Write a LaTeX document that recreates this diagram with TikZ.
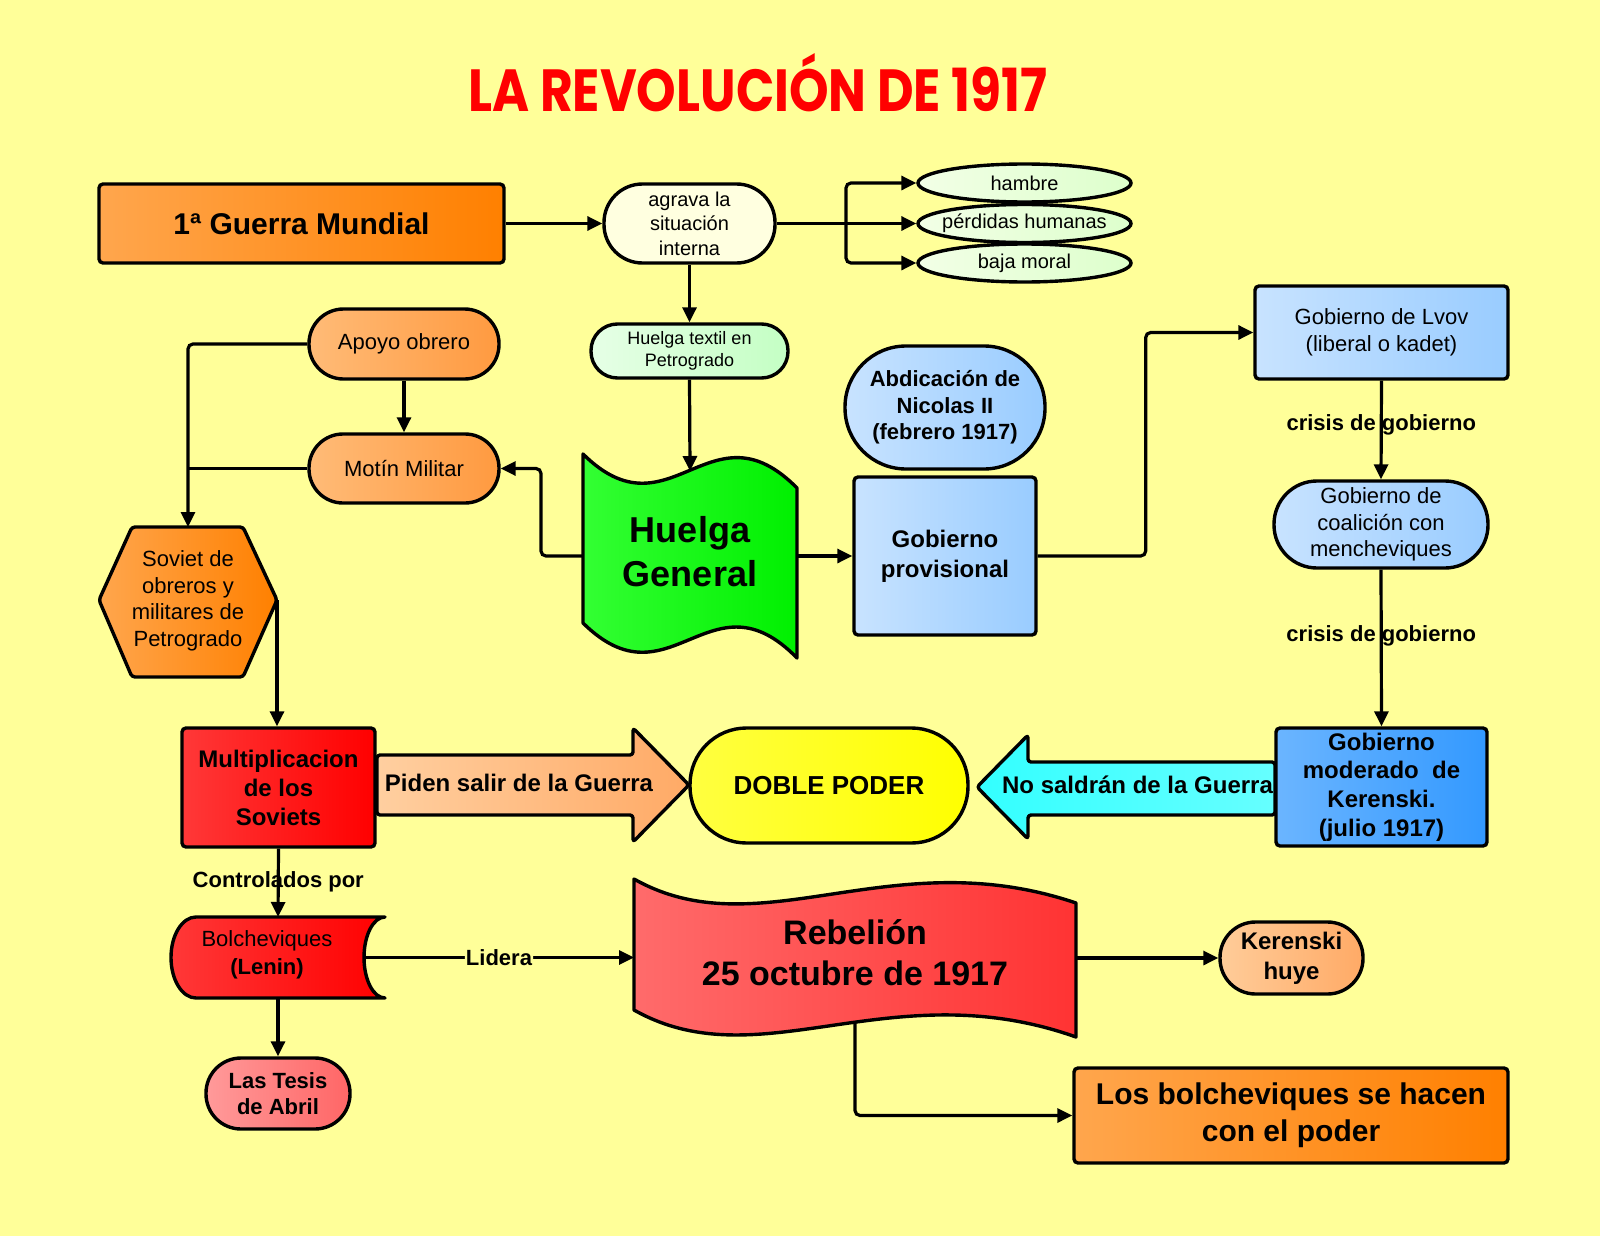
\documentclass[tikz,border=0pt]{standalone}
\usepackage{fontspec}
\setmainfont{Liberation Sans}
\newfontfamily\titlefont{Poppins}
\usepackage{graphicx}
\usetikzlibrary{shapes.misc,shapes.geometric,arrows.meta,calc}
\newcommand\fsz[2]{\fontsize{#1}{#2}\selectfont}
\definecolor{bg}{HTML}{FFFF99}
\definecolor{orA}{HTML}{FFA64D}\definecolor{orB}{HTML}{FF8000}
\definecolor{apA}{HTML}{FFBB77}\definecolor{apB}{HTML}{FF9A40}
\definecolor{cream}{HTML}{FFFFE0}
\definecolor{elA}{HTML}{F2FFE6}\definecolor{elB}{HTML}{DDFFCC}
\definecolor{txA}{HTML}{E6FFE6}\definecolor{txB}{HTML}{C4FFC4}
\definecolor{hgA}{HTML}{33FF33}\definecolor{hgB}{HTML}{00F000}
\definecolor{lbA}{HTML}{C8E3FF}\definecolor{lbB}{HTML}{99CCFF}
\definecolor{kbA}{HTML}{6BB5FF}\definecolor{kbB}{HTML}{3399FF}
\definecolor{muA}{HTML}{FF3838}\definecolor{muB}{HTML}{FF0000}
\definecolor{pdA}{HTML}{FFCFA0}\definecolor{pdB}{HTML}{FFAA66}
\definecolor{dpA}{HTML}{FFFF40}\definecolor{dpB}{HTML}{FFFF00}
\definecolor{cyA}{HTML}{33FFFF}\definecolor{cyB}{HTML}{66FFFF}
\definecolor{teA}{HTML}{FF9A9A}\definecolor{teB}{HTML}{FF6666}
\definecolor{rbA}{HTML}{FF6B6B}\definecolor{rbB}{HTML}{FF3333}
\definecolor{khA}{HTML}{FFCC99}\definecolor{khB}{HTML}{FFAA66}
\begin{document}
\begin{tikzpicture}[x=1pt,y=-1pt,
  bx/.style={draw=black,line width=3.4pt,rounded corners=4pt,align=center,inner sep=0pt},
  stad/.style={draw=black,line width=3.4pt,rounded corners=#1,align=center,inner sep=0pt},
  conn/.style={line width=3.2pt,-{Triangle[length=15pt,width=14pt]},rounded corners=5pt},
  link/.style={line width=3.2pt,rounded corners=5pt},
  shp/.style={draw=black,line width=3.4pt,line join=round},
  lbl/.style={font=\fsz{22}{26}\bfseries,inner sep=1pt}]
\fill[bg] (0,0) rectangle (1600,1236);
\useasboundingbox (0,0) rectangle (1600,1236);

% title
\node[inner sep=0pt,text=red] (title) at (758,83) {\resizebox{579pt}{58pt}{\titlefont\bfseries LA REVOLUCIÓN DE 1917}};

% top row
\node[bx,left color=orA,right color=orB,minimum width=405pt,minimum height=79pt,font=\fsz{30}{36}\bfseries] (gm) at (301.5,223.5) {1ª Guerra Mundial};
\node[stad=38.5pt,fill=cream,minimum width=171pt,minimum height=79pt,font=\fsz{20}{24.5}] (ag) at (689.5,223.5) {agrava la\\situación\\interna};
\node[ellipse,draw,line width=3.4pt,left color=elA,right color=elB,minimum width=213pt,minimum height=38pt,inner sep=0pt,font=\fsz{20}{24}] (h1) at (1024.5,183) {\makebox[0pt]{hambre}};
\node[ellipse,draw,line width=3.4pt,left color=elA,right color=elB,minimum width=213pt,minimum height=38pt,inner sep=0pt,font=\fsz{20}{24}] (h2) at (1024.5,223.5) {\makebox[0pt]{pérdidas humanas}};
\node[ellipse,draw,line width=3.4pt,left color=elA,right color=elB,minimum width=213pt,minimum height=38pt,inner sep=0pt,font=\fsz{20}{24}] (h3) at (1024.5,263) {\makebox[0pt]{baja moral}};

\node[stad=26.5pt,left color=txA,right color=txB,minimum width=197pt,minimum height=54pt,font=\fsz{18}{21.4}] (tx) at (689.5,351) {Huelga textil en\\Petrogrado};

% left column
\node[stad=34.5pt,left color=apA,right color=apB,minimum width=190pt,minimum height=70pt,font=\fsz{22}{26}] (ap) at (404,344) {Apoyo obrero};
\node[stad=34pt,left color=apA,right color=apB,minimum width=190pt,minimum height=69pt,font=\fsz{22}{26}] (mt) at (404,468.5) {Motín Militar};

\path[shp,rounded corners=3pt,left color=orA,right color=orB] (99,600) -- (132,527) -- (243,527) -- (277,600) -- (243,677) -- (132,677) -- cycle;
\node[font=\fsz{22}{26.5},align=center] (sov) at (188,601) {Soviet de\\obreros y\\militares de\\Petrogrado};
\coordinate (sovN) at (188,527);
\coordinate (sovE) at (277,600);

% huelga general
\path[shp,left color=hgA,right color=hgB] (583,454) .. controls (670,540) and (710,400) .. (797,488) -- (797,658) .. controls (710,569) and (670,709) .. (583,623) -- cycle;
\node[font=\fsz{36}{44}\bfseries,align=center] (hg) at (690,552) {Huelga\\General};
\coordinate (hgN) at (690,471);
\coordinate (hgW) at (583,556);
\coordinate (hgE) at (797,556);

% center blue
\node[stad=61pt,left color=lbA,right color=lbB,minimum width=200pt,minimum height=123pt,font=\fsz{22}{26.5}\bfseries] (ab) at (945,407.5) {Abdicación de\\Nicolas II\\(febrero 1917)};
\node[bx,left color=lbA,right color=lbB,minimum width=182pt,minimum height=158pt,font=\fsz{24}{29.6}\bfseries] (gp) at (945,556) {Gobierno\\provisional};

% right column
\node[bx,left color=lbA,right color=lbB,minimum width=253pt,minimum height=93pt,font=\fsz{22}{26.5}] (lv) at (1381.5,332.5) {Gobierno de Lvov\\(liberal o kadet)};
\node[stad=43pt,left color=lbA,right color=lbB,minimum width=214pt,minimum height=87pt,font=\fsz{22}{26.5}] (co) at (1381,524.5) {Gobierno de\\coalición con\\mencheviques};

% middle row
\path[shp,rounded corners=3pt,left color=pdA,right color=pdB] (377,755) -- (633,755) -- (633,728) -- (689,785) -- (633,842) -- (633,815) -- (377,815) -- cycle;
\node[bx,left color=muA,right color=muB,minimum width=193pt,minimum height=119pt,font=\fsz{24}{29}\bfseries] (mu) at (278.5,787.5) {Multiplicacion\\de los\\Soviets};
\node[font=\fsz{24}{28}\bfseries] (pd) at (519,783) {Piden salir de la Guerra};
\node[stad=56.5pt,left color=dpA,right color=dpB,minimum width=278pt,minimum height=115pt,font=\fsz{26}{30}\bfseries] (dp) at (829,785.5) {DOBLE PODER};
\path[shp,rounded corners=3pt,left color=cyA,right color=cyB] (1275,762) -- (1028,762) -- (1028,735) -- (977,787) -- (1028,839) -- (1028,815) -- (1275,815) -- cycle;
\node[bx,left color=kbA,right color=kbB,minimum width=211pt,minimum height=118pt,font=\fsz{24}{28.6}\bfseries] (kb) at (1381.5,787) {Gobierno\\moderado\ \ de\\Kerenski.\\(julio 1917)};
\node[font=\fsz{24}{28}\bfseries] (ns) at (1137.5,785) {No saldrán de la Guerra};

% bottom
\path[shp,left color=muA,right color=muB] (196,917) -- (385,917) .. controls (373.4,917) and (364,935.1) .. (364,957.5) .. controls (364,979.9) and (373.4,998) .. (385,998) -- (196,998) .. controls (182.2,998) and (171,979.9) .. (171,957.5) .. controls (171,935.1) and (182.2,917) .. (196,917) -- cycle;
\node[font=\fsz{22}{27.5},align=center] (bo) at (267,955) {Bolcheviques\\\textbf{(Lenin)}};
\coordinate (boN) at (278,917);
\coordinate (boE) at (364,957.5);
\coordinate (boS) at (278,998);

\node[stad=35pt,left color=teA,right color=teB,minimum width=144pt,minimum height=71pt,font=\fsz{22}{26.5}\bfseries] (te) at (278,1093.5) {Las Tesis\\de Abril};

\path[shp,left color=rbA,right color=rbB] (634,879) .. controls (760,950) and (890,840) .. (1076,903) -- (1076,1037) .. controls (890,971) and (760,1081) .. (634,1010) -- cycle;
\node[font=\fsz{34}{41}\bfseries,align=center] (rb) at (855,953) {Rebelión\\25 octubre de 1917};
\coordinate (rbW) at (634,957.5);
\coordinate (rbE) at (1076,958);
\coordinate (rbS) at (855,1022);

\node[stad=35.5pt,left color=khA,right color=khB,minimum width=143pt,minimum height=72pt,font=\fsz{24}{29.6}\bfseries] (kh) at (1291.5,958) {Kerenski\\huye};
\node[bx,left color=orA,right color=orB,minimum width=434pt,minimum height=95pt,font=\fsz{30}{36.7}\bfseries] (lb) at (1291,1115.5) {Los bolcheviques se hacen\\con el poder};

% connectors
\draw[conn] (gm.east) -- (ag.west);
\coordinate (br) at (846,223.5);
\draw[link] (ag.east) -- (br);
\draw[conn] (br) |- (h1.west);
\draw[conn] (br) -- (h2.west);
\draw[conn] (br) |- (h3.west);
\draw[conn] (ag.south) -- (tx.north);
\draw[conn] (tx.south) -- (hgN);
\draw[conn] (hgW) -- ++(-42,0) |- (mt.east);
\draw[conn] (hgE) -- (gp.west);
\draw[conn] (gp.east) -- ++(108,0) |- (lv.west);
\draw[conn] (lv.south) -- node[lbl,pos=0.45]{crisis de gobierno} (co.north);
\draw[conn] (co.south) -- node[lbl,pos=0.42]{crisis de gobierno} (kb.north);
\draw[conn] (ap.south) -- (mt.north);
\draw[conn] (ap.west) -| (sovN);
\draw[link] (mt.west) -- (mt.west -| sovN);
\draw[conn] (sovE) -- (sovE |- mu.north);
\draw[conn] (mu.south) -- node[lbl,pos=0.48]{Controlados por} (boN);
\draw[conn] (boE) -- node[lbl,fill=bg,pos=0.5]{Lidera} (rbW);
\draw[conn] (boS) -- (te.north);
\draw[conn] (rbE) -- (kh.west);
\draw[conn] (rbS) |- (lb.west);
\end{tikzpicture}
\end{document}
